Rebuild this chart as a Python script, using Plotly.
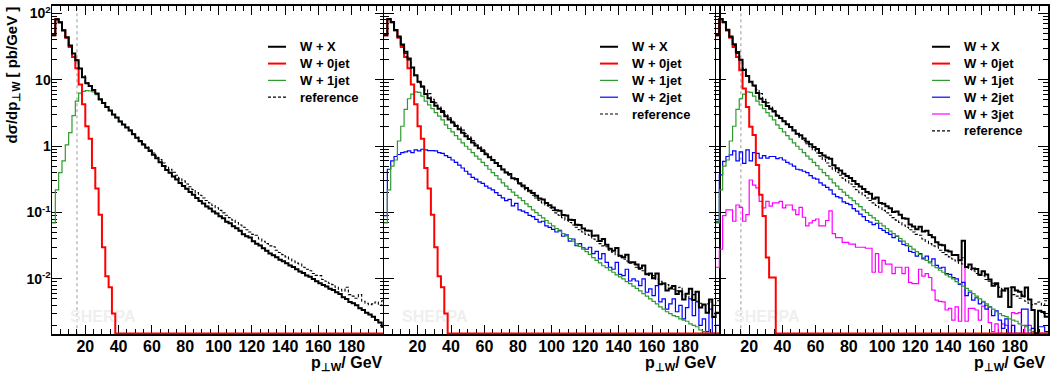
import plotly.graph_objects as go

# ---------------- data (2 GeV bins from 0 to 200 GeV) ----------------
BIN_W = 2.0
x_tick_vals = [20, 40, 60, 80, 100, 120, 140, 160, 180]
y_tick_vals = [1e-2, 1e-1, 1, 10, 100]
y_tick_text = ["10<sup>-2</sup>", "10<sup>-1</sup>", "1", "10", "10<sup>2</sup>"]
jet_cut = 15.0

# W + 0jet (panels 1 and 2)
w0jet = [47, 81.8, 73.6, 55.4, 43, 31.4, 22.1, 15, 8.5, 4.3,
         2.0, 1.3, 0.47, 0.23, 0.093, 0.03, 0.011, 0.0075, 0.003] + [0] * 81

# W + 0jet (panel 3)
w0jet_p3 = [47, 81.8, 73.6, 55.4, 43, 31.4, 22.1, 14, 7.4, 3.9,
            1.97, 1.48, 0.52, 0.186, 0.089, 0.021, 0.0105, 0.0105] + [0] * 82

# W + 1jet, inclusive (panel 1)
w1jet_incl = [0.07, 0.22, 0.4, 0.6, 1.05, 1.6, 2.9, 4.8, 6.3, 6.7,
              6.9, 6.8, 6.6, 6.0, 5.0, 4.47, 3.89, 3.44, 3.0, 2.7,
              2.35, 2.12, 1.92, 1.72, 1.52, 1.34, 1.19, 1.06, 0.95, 0.85,
              0.745, 0.66, 0.575, 0.505, 0.44, 0.40, 0.349, 0.316, 0.279, 0.251,
              0.228, 0.205, 0.186, 0.166, 0.149, 0.137, 0.124, 0.115, 0.104, 0.097,
              0.088, 0.082, 0.073, 0.069, 0.062, 0.058, 0.053, 0.047, 0.044, 0.042,
              0.037, 0.034, 0.032, 0.029, 0.0265, 0.0242, 0.0228, 0.0212, 0.0195, 0.0184,
              0.0172, 0.016, 0.0151, 0.014, 0.0129, 0.0123, 0.0113, 0.0108, 0.01, 0.0092,
              0.0086, 0.0081, 0.0077, 0.0071, 0.0068, 0.0063, 0.0059, 0.0053, 0.005, 0.0045,
              0.0043, 0.004, 0.0036, 0.0034, 0.0031, 0.0029, 0.0027, 0.0024, 0.0022, 0.0019]

# W + 1jet, exclusive (panels 2 and 3)
w1jet = [0.07, 0.22, 0.5, 0.62, 1.2, 2.0, 3.6, 5.2, 6.1, 6.6,
         6.5, 5.7, 4.8, 4.2, 3.7, 3.2, 2.85, 2.5, 2.1, 1.85,
         1.65, 1.45, 1.28, 1.12, 1.0, 0.9, 0.8, 0.71, 0.64, 0.57,
         0.51, 0.45, 0.4, 0.36, 0.32, 0.28, 0.25, 0.224, 0.204, 0.182,
         0.166, 0.151, 0.135, 0.123, 0.11, 0.1, 0.091, 0.083, 0.076, 0.069,
         0.063, 0.0575, 0.0525, 0.048, 0.0447, 0.0407, 0.037, 0.0339, 0.031, 0.0282,
         0.0257, 0.0234, 0.0209, 0.019, 0.0174, 0.0158, 0.0148, 0.0135, 0.0126, 0.0115,
         0.0107, 0.01, 0.0091, 0.0085, 0.0078, 0.0072, 0.0066, 0.006, 0.0055, 0.005,
         0.0046, 0.0042, 0.0038, 0.0035, 0.0032, 0.003, 0.0028, 0.0027, 0.0025, 0.0024,
         0.0023, 0.0021, 0.002, 0.0019, 0.0017, 0.0016, 0.0015, 0.0014, 0.00126, 0.0011]

# W + 2jet, inclusive (panel 2)
w2jet_incl = [0.09, 0.45, 0.6, 0.7, 0.75, 0.8, 0.82, 0.85, 0.8, 0.88,
              0.85, 0.9, 0.88, 0.86, 0.86, 0.85, 0.8, 0.78, 0.72, 0.68,
              0.62, 0.57, 0.52, 0.47, 0.42,
              0.38, 0.34, 0.32, 0.29, 0.275, 0.25, 0.234, 0.22, 0.2, 0.182,
              0.166, 0.151, 0.158, 0.126, 0.138, 0.11, 0.105, 0.1, 0.091, 0.087,
              0.079, 0.072, 0.074, 0.063, 0.06, 0.056, 0.051, 0.054, 0.044, 0.046,
              0.037, 0.04, 0.0316, 0.034, 0.0295, 0.028, 0.030, 0.024, 0.026, 0.020,
              0.024, 0.0178, 0.015, 0.014, 0.0178, 0.0117, 0.0112, 0.014, 0.0093, 0.01,
              0.0093, 0.0079, 0.01, 0.0063, 0.0071, 0.0056, 0.0079, 0.0045, 0.005, 0.0035,
              0.0042, 0.005, 0.0032, 0.004, 0.0025, 0.0037, 0.005, 0.0028, 0.0045, 0.002,
              0.0025, 0.0016, 0.0035, 0.0014, 0.002]

# W + 2jet, exclusive (panel 3)
w2jet = [0.074, 0.37, 0.59, 0.7, 0.74, 0.85, 0.6, 0.82, 0.55, 0.88,
         0.6, 0.8, 0.78, 0.66, 0.72, 0.66, 0.7, 0.7, 0.65, 0.67,
         0.62, 0.57, 0.54, 0.5, 0.45,
         0.44, 0.42, 0.4, 0.36, 0.33, 0.32, 0.28, 0.26, 0.24, 0.22,
         0.19, 0.174, 0.166, 0.145, 0.138, 0.132, 0.115, 0.105, 0.095, 0.087,
         0.076, 0.072, 0.066, 0.069, 0.0575, 0.054, 0.05, 0.047, 0.042, 0.044,
         0.037, 0.033, 0.0316, 0.026, 0.025, 0.022, 0.024, 0.020, 0.022, 0.018,
         0.020, 0.016, 0.0145, 0.015, 0.012, 0.0117, 0.0105, 0.01, 0.0083, 0.0089,
         0.0056, 0.0063, 0.0048, 0.0052, 0.0042, 0.0045, 0.0035, 0.0038, 0.0028, 0.0033,
         0.0024, 0.0018, 0.0025, 0.00126, 0.002, 0.0014, 0.0012, 0.0035, 0.0035, 0.0012,
         0.0018, 0, 0.0019, 0.0019, 0.0016]

# W + 3jet (panel 3)
w3jet = [0.015, 0.028, 0.09, 0.11, 0.11, 0.074, 0.13, 0.12, 0.074, 0.093,
         0.31, 0.26, 0.236, 0.148, 0.118, 0.148, 0.125, 0.14, 0.14, 0.148,
         0.118, 0.13, 0.13, 0.11, 0.093,
         0.12, 0.085, 0.063, 0.07, 0.076, 0.08, 0.063, 0.063, 0.076, 0.106,
         0.048, 0.042, 0.042, 0.0355, 0.0355, 0.0335, 0.0335, 0.03, 0.03, 0.03,
         0.029, 0.029, 0.0126, 0.024, 0.0126, 0.019, 0.0167, 0.0167, 0.012, 0.015,
         0.015, 0.012, 0.015, 0.0089, 0.0085,
         0.0085, 0.014, 0.011, 0.012, 0.0105, 0.0068, 0.0048, 0.0046, 0.0045, 0.0034,
         0.0036, 0.0024, 0.0038, 0.0023, 0.021, 0.0023, 0.0036, 0.0036, 0.0034, 0.0024,
         0.0039, 0.004, 0.0022, 0.0016, 0.0021, 0, 0.0021, 0.002, 0, 0.0031,
         0.003, 0.0031, 0, 0.002, 0.002, 0, 0, 0, 0, 0]

# reference
reference = [47, 82, 74, 56, 44, 33, 25, 20, 15, 11.5,
             9.0, 8.1, 7.1, 6.2, 5.1, 4.5, 3.9, 3.45, 3.0, 2.7,
             2.38, 2.15, 1.95, 1.75, 1.55, 1.37, 1.22, 1.09, 0.98, 0.88,
             0.79, 0.71, 0.63, 0.56, 0.5, 0.45, 0.405, 0.365, 0.33, 0.3,
             0.27, 0.245, 0.222, 0.2, 0.182, 0.166, 0.152, 0.14, 0.128, 0.118,
             0.108, 0.099, 0.091, 0.084, 0.077, 0.071, 0.065, 0.06, 0.055, 0.051,
             0.047, 0.0455, 0.04, 0.037, 0.034, 0.0315, 0.0305, 0.027, 0.025, 0.0232,
             0.0215, 0.02, 0.0186, 0.0173, 0.0168, 0.015, 0.014, 0.0133, 0.0121, 0.0113,
             0.0112, 0.0098, 0.0092, 0.0086, 0.0082, 0.0075, 0.007, 0.0066, 0.0075, 0.0058,
             0.0055, 0.0051, 0.0058, 0.0046, 0.0043, 0.0041, 0.0042, 0.0045, 0.004, 0.0047]


def hsum(*arrs):
    n = min(len(a) for a in arrs)
    return [sum(a[i] for a in arrs) for i in range(n)]


# W + X = sum of the multiplicity samples shown in each panel
p1_X = hsum(w0jet, w1jet_incl)
p2_X = hsum(w0jet, w1jet, w2jet_incl)
p3_X = hsum(w0jet_p3, w1jet, w2jet, w3jet)

# ---------------- styling / layout ----------------
W, H = 1052, 382
PANELS = [(52, 385), (384, 719), (716, 1048)]   # pixel x extents of frames
Y_TOP, Y_BOT = 4, 334                            # pixel y extents of frames
LOG_RANGE = [-2.834, 2.114]
X_RANGE = [0, 200]
FONT = "Liberation Sans"

C_BLACK = "#000000"
C_RED = "#ff0000"
C_GREEN = "#2f9a2f"
C_BLUE = "#0000ff"
C_MAG = "#ff00ff"

floor_val = 10 ** (LOG_RANGE[0] + 0.012)


def step(vals):
    xs = [i * BIN_W for i in range(len(vals) + 1)]
    ys = [max(v, floor_val) for v in vals]
    ys = ys + [ys[-1]]
    return xs, ys


panel_series = [
    [  # panel 1
        ("W + X", p1_X, C_BLACK, 2.0, "solid"),
        ("W + 0jet", w0jet, C_RED, 2.0, "solid"),
        ("W + 1jet", w1jet_incl, C_GREEN, 1.2, "solid"),
        ("reference", reference, C_BLACK, 1.1, "3px,2px"),
    ],
    [  # panel 2
        ("W + X", p2_X, C_BLACK, 2.0, "solid"),
        ("W + 0jet", w0jet, C_RED, 2.0, "solid"),
        ("W + 1jet", w1jet, C_GREEN, 1.2, "solid"),
        ("W + 2jet", w2jet_incl, C_BLUE, 1.2, "solid"),
        ("reference", reference, C_BLACK, 1.1, "3px,2px"),
    ],
    [  # panel 3
        ("W + X", p3_X, C_BLACK, 2.0, "solid"),
        ("W + 0jet", w0jet_p3, C_RED, 2.0, "solid"),
        ("W + 1jet", w1jet, C_GREEN, 1.2, "solid"),
        ("W + 2jet", w2jet, C_BLUE, 1.2, "solid"),
        ("W + 3jet", w3jet, C_MAG, 1.2, "solid"),
        ("reference", reference, C_BLACK, 1.1, "3px,2px"),
    ],
]

# drawing order: higher multiplicities first, then 0jet, then X, then reference
order_rank = {"W + 3jet": 0, "W + 2jet": 1, "W + 1jet": 2, "W + 0jet": 3,
              "W + X": 4, "reference": 5}

fig = go.Figure()

x_minor = [v for v in range(5, 200, 5) if v % 20 != 0]
y_minor = [m * 10 ** e for e in range(-3, 3) for m in range(2, 10)]

for p, series in enumerate(panel_series):
    sfx = "" if p == 0 else str(p + 1)
    xa, ya = "x" + sfx, "y" + sfx
    # SHERPA watermark (behind curves)
    left, right = PANELS[p]
    wm_x = 18 / (right - left) * (X_RANGE[1] - X_RANGE[0])
    wm_logy = LOG_RANGE[0] + (Y_BOT - 318) / (Y_BOT - Y_TOP) * (LOG_RANGE[1] - LOG_RANGE[0])
    fig.add_trace(go.Scatter(x=[wm_x], y=[10 ** wm_logy], mode="text", text=["SHERPA"],
                             textposition="middle right", xaxis=xa, yaxis=ya,
                             textfont=dict(family=FONT, size=16, color="#efefef", weight="bold"),
                             hoverinfo="skip", showlegend=False))
    for name, vals, col, lw, dash in sorted(series, key=lambda s: order_rank[s[0]]):
        xs, ys = step(vals)
        fig.add_trace(go.Scatter(x=xs, y=ys, mode="lines", line_shape="hv",
                                 line=dict(color=col, width=lw, dash=dash),
                                 name=name, xaxis=xa, yaxis=ya, showlegend=False,
                                 hoverinfo="skip"))

layout = dict(width=W, height=H, margin=dict(l=0, r=0, t=0, b=0),
              paper_bgcolor="white", plot_bgcolor="white", showlegend=False)

shapes = []
annotations = []
for p in range(3):
    sfx = "" if p == 0 else str(p + 1)
    left, right = PANELS[p]
    xdom = [left / W, right / W]
    ydom = [1 - Y_BOT / H, 1 - Y_TOP / H]
    layout["xaxis" + sfx] = dict(
        domain=xdom, range=X_RANGE, anchor="y" + sfx,
        tickmode="array", tickvals=x_tick_vals, ticks="inside", ticklen=9,
        tickwidth=1, tickcolor="black", showline=True, linecolor="black",
        linewidth=1.5, mirror="allticks", showgrid=False, zeroline=False,
        tickfont=dict(family=FONT, size=16, color="black", weight="bold"),
        ticklabelstandoff=-3,
        minor=dict(tickmode="array", tickvals=x_minor, ticks="inside", ticklen=5,
                   tickwidth=1, tickcolor="black", showgrid=False),
        layer="below traces", fixedrange=True)
    layout["yaxis" + sfx] = dict(
        domain=ydom, type="log", range=LOG_RANGE, anchor="x" + sfx,
        tickmode="array", tickvals=y_tick_vals, ticktext=y_tick_text,
        ticks="inside", ticklen=10, tickwidth=1, tickcolor="black",
        showline=True, linecolor="black", linewidth=1.5, mirror="allticks",
        showgrid=False, zeroline=False, showticklabels=(p == 0),
        tickfont=dict(family=FONT, size=14, color="black", weight="bold"),
        ticklabelstandoff=-3,
        minor=dict(tickmode="array", tickvals=y_minor, ticks="inside", ticklen=5,
                   tickwidth=1, tickcolor="black", showgrid=False),
        layer="below traces", fixedrange=True)

    # jet-cut marker
    shapes.append(dict(type="line", xref="x" + sfx, yref="y" + sfx + " domain",
                       x0=jet_cut, x1=jet_cut, y0=0, y1=1, layer="below",
                       line=dict(color="#9a9a9a", width=1, dash="dot")))

    # x title
    annotations.append(dict(text="p<sub>⊥W</sub>/ GeV", xref="paper", yref="paper",
                            x=right / W, y=1 - 363 / H, xanchor="right", yanchor="middle",
                            showarrow=False,
                            font=dict(family=FONT, size=16, color="black", weight="bold")))

    # legend
    for i, (name, vals, col, lw, dash) in enumerate(panel_series[p]):
        yy = 1 - (45 + 16.9 * i) / H
        shapes.append(dict(type="line", xref="paper", yref="paper",
                           x0=(left + 216) / W, x1=(left + 234) / W, y0=yy, y1=yy,
                           line=dict(color=col, width=max(lw, 1.2), dash=dash)))
        annotations.append(dict(text=name, xref="paper", yref="paper",
                                x=(left + 246) / W, y=yy, xanchor="left", yanchor="middle",
                                showarrow=False,
                                font=dict(family=FONT, size=13, color="black", weight="bold")))

# y title
annotations.append(dict(text="dσ/dp<sub>⊥W</sub> [ pb/GeV ]", xref="paper", yref="paper",
                        x=12 / W, y=1 - 3 / H, xanchor="center", yanchor="top",
                        textangle=-90, showarrow=False,
                        font=dict(family=FONT, size=15, color="black", weight="bold")))

layout["shapes"] = shapes
layout["annotations"] = annotations
fig.update_layout(**layout)

fig.write_html("out.html",
               config={"displayModeBar": False, "staticPlot": True},
               post_script="document.body.style.margin='0';document.body.style.padding='0';")
